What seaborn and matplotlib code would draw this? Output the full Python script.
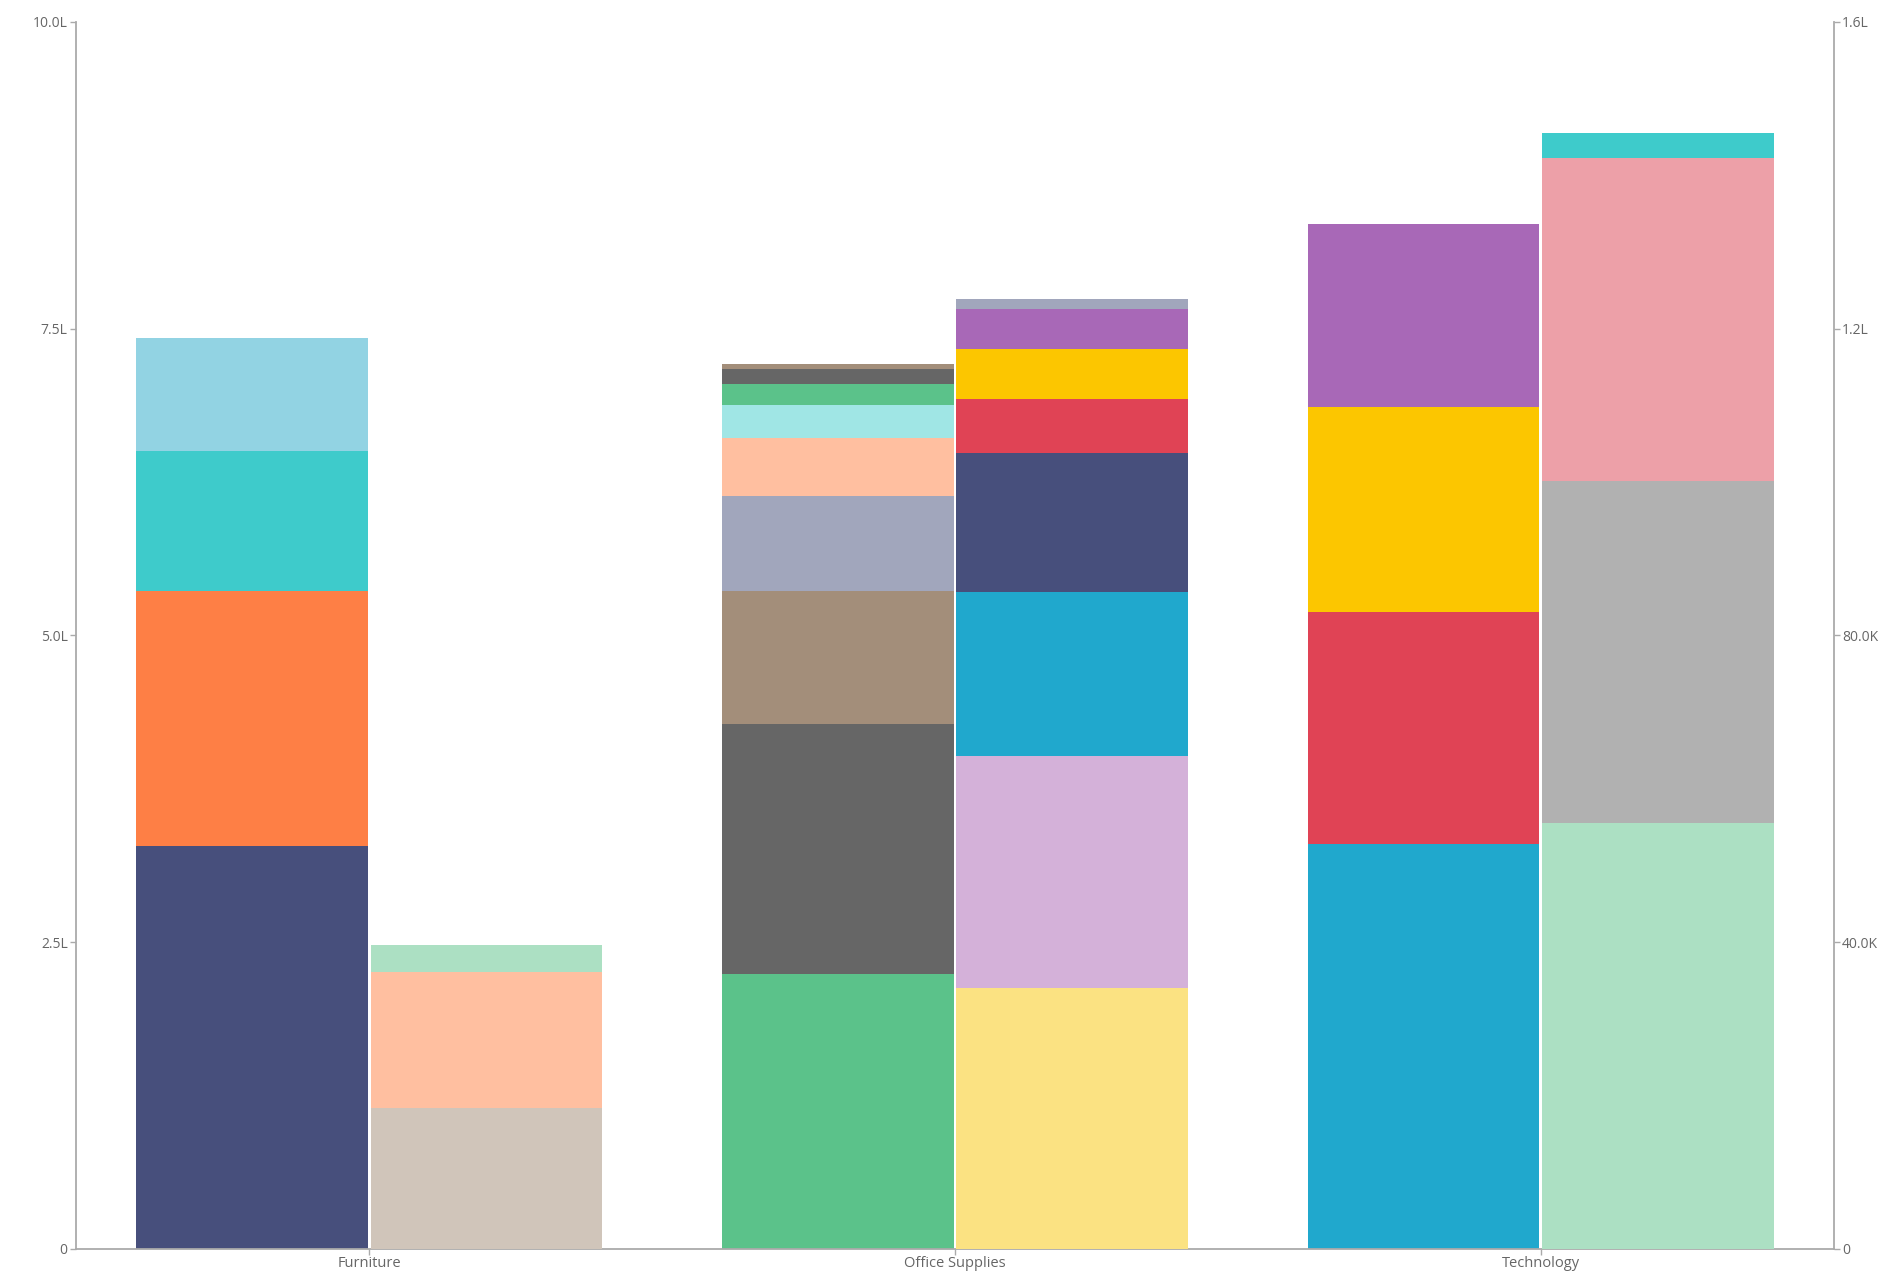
import numpy as np
import pandas as pd
import matplotlib
matplotlib.use("Agg")
import matplotlib.pyplot as plt
import seaborn as sns

sns.set_style("white")
plt.rcParams["font.family"] = ["Open Sans", "DejaVu Sans"]

categories = ["Furniture", "Office Supplies", "Technology"]

# left bars (left axis), stacked bottom -> top
left_values = [
    [328000, 208000, 114000, 92000],
    [224000, 204000, 108000, 78000, 47000, 27000, 17000, 12000, 4000],
    [330000, 189000, 167000, 149000],
]
left_colors = [
    ["#474f7c", "#fe7f45", "#3ecbcb", "#92d3e3"],
    ["#5bc28a", "#666666", "#a38e7a", "#a1a6bc", "#ffbfa0", "#a0e6e5", "#5bc28a", "#666666", "#a38e7a"],
    ["#20a8cd", "#e04355", "#fcc600", "#a868b7"],
]

# right bars (right axis), stacked bottom -> top
right_values = [
    [18400, 17700, 3500],
    [34000, 30300, 21300, 18200, 7000, 6500, 5300, 1200],
    [55600, 44500, 42100, 3300],
]
right_colors = [
    ["#d0c5ba", "#ffbfa0", "#ace0c3"],
    ["#fbe282", "#d4b1d9", "#20a8cd", "#474f7c", "#e04355", "#fcc600", "#a868b7", "#a1a6bc"],
    ["#ace0c3", "#b1b1b1", "#eda0a8", "#3ecbcb"],
]

left_ticks = [0, 250000, 500000, 750000, 1000000]
left_labels = ["0", "2.5L", "5.0L", "7.5L", "10.0L"]
right_ticks = [0, 40000, 80000, 120000, 160000]
right_labels = ["0", "40.0K", "80.0K", "1.2L", "1.6L"]

rows = []
for side, vals, cols in [("left", left_values, left_colors), ("right", right_values, right_colors)]:
    for i, cat in enumerate(categories):
        bottom = 0
        for v, c in zip(vals[i], cols[i]):
            rows.append({"category": cat, "side": side, "pos": i, "value": v, "bottom": bottom, "color": c})
            bottom += v
df = pd.DataFrame(rows)

fig = plt.figure(figsize=(19.02, 12.87), dpi=100)
ax = fig.add_axes([0.04, 0.0296, 0.9242, 0.9534])
ax2 = ax.twinx()

offset = 0.2
bar_w = 0.395
for _, r in df.iterrows():
    target = ax if r["side"] == "left" else ax2
    x = r["pos"] - offset if r["side"] == "left" else r["pos"] + offset
    sns.barplot(x=[x], y=[r["value"]], bottom=[r["bottom"]], native_scale=True,
                width=bar_w, color=r["color"], saturation=1, errorbar=None,
                linewidth=0, ax=target)

spine_c = "#aaaaaa"
text_c = "#666666"
for a in (ax, ax2):
    a.set_xlim(-0.5, 2.5)
    a.set_xlabel("")
    a.set_ylabel("")
    for s in a.spines.values():
        s.set_visible(False)

ax.set_ylim(0, 1000000)
ax2.set_ylim(0, 160000)
ax.set_yticks(left_ticks)
ax.set_yticklabels(left_labels)
ax2.set_yticks(right_ticks)
ax2.set_yticklabels(right_labels)
ax.set_xticks(range(len(categories)))
ax.set_xticklabels(categories)

ax.spines["left"].set_visible(True)
ax.spines["bottom"].set_visible(True)
ax2.spines["right"].set_visible(True)
for a, sp in ((ax, "left"), (ax, "bottom"), (ax2, "right")):
    a.spines[sp].set_color(spine_c)
    a.spines[sp].set_linewidth(1.3)

ax.tick_params(axis="y", left=True, length=4, width=1, color=spine_c, labelcolor=text_c, labelsize=10, pad=2)
ax.tick_params(axis="x", bottom=True, length=4, width=1, color=spine_c, labelcolor=text_c, labelsize=10.5, pad=1)
ax2.tick_params(axis="y", right=True, length=4, width=1, color=spine_c, labelcolor=text_c, labelsize=10, pad=2)
ax2.tick_params(axis="x", bottom=False, labelbottom=False)

fig.savefig("out.png", dpi=100)
